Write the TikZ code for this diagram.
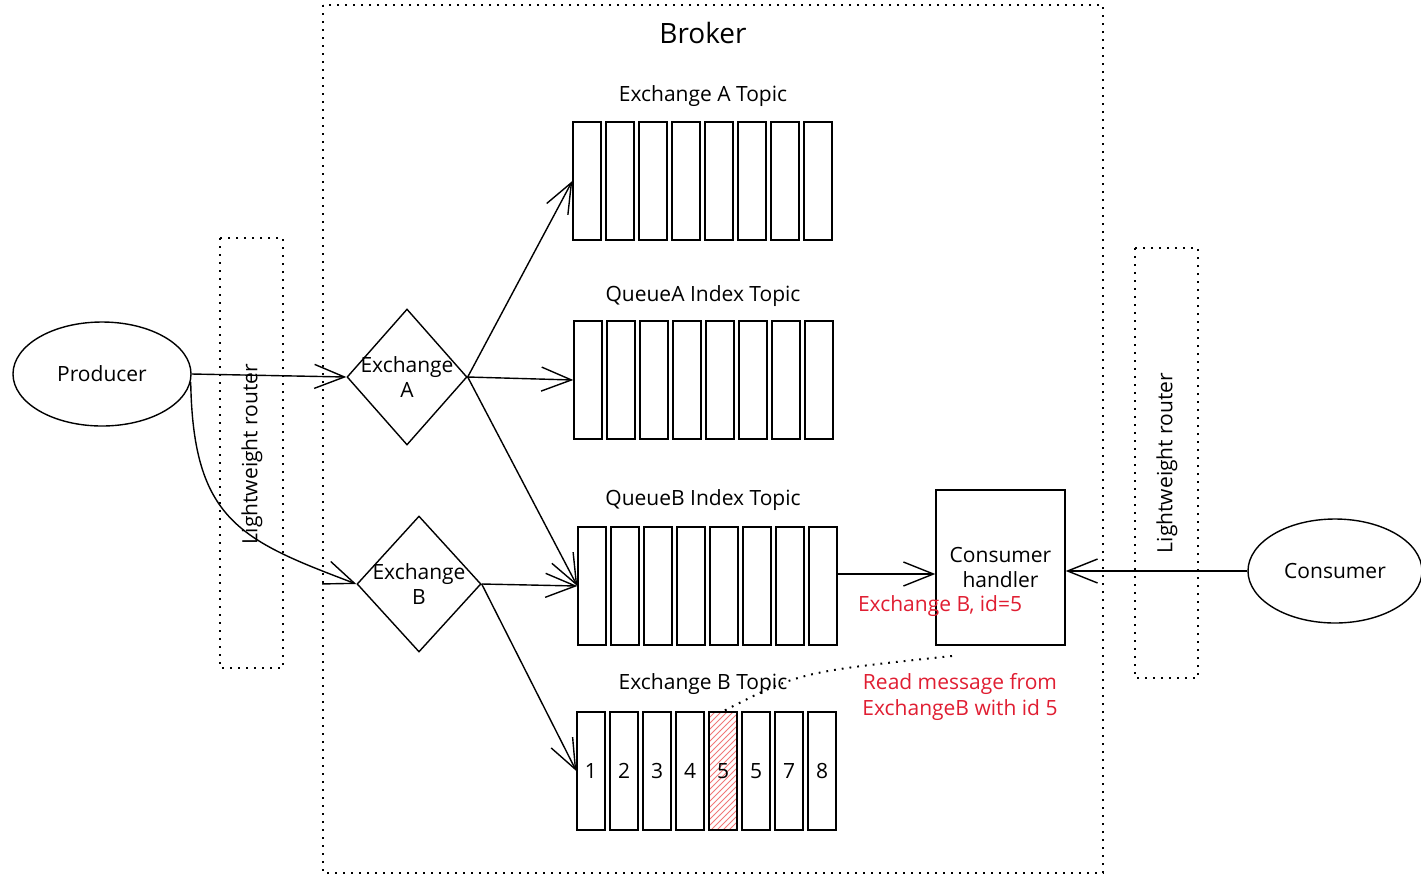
\documentclass[tikz,border=0pt]{standalone}
\usepackage{fontspec}
\setmainfont{Open Sans}
\usetikzlibrary{arrows.meta,shapes.geometric,patterns}
\definecolor{notered}{RGB}{224,30,50}
\definecolor{hatchred}{RGB}{240,120,120}
\begin{document}
\begin{tikzpicture}[x=0.5pt,y=-0.5pt,
  stroke/.style={line width=0.7pt},
  dotbox/.style={draw,line width=1pt,dash pattern=on 0.9pt off 3.1pt},
  bar/.style={draw,stroke,minimum width=14pt,minimum height=59pt,inner sep=0pt},
  xchg/.style={diamond,draw,stroke,inner sep=0pt},
  blob/.style={ellipse,draw,stroke,inner sep=0pt},
  lbl/.style={font=\fontsize{10.5}{12.5}\selectfont},
  title/.style={font=\fontsize{10.5}{12.5}\selectfont},
  note/.style={text=notered,font=\fontsize{10.5}{12.8}\selectfont},
  arr/.style={stroke,-{Straight Barb[length=15pt,width=12pt,line width=0.7pt]}},
  linkline/.style={line width=1pt,dash pattern=on 0.9pt off 3pt}
]
\useasboundingbox (0,0) rectangle (1421,875);

% broker area and the two router strips
\draw[dotbox] (323,5) rectangle (1103,873);
\node[font=\fontsize{14}{16}\selectfont] (broker) at (703,33) {Broker};
\draw[dotbox] (220,238) rectangle (283,668);
\node[lbl,rotate=90] (lrouter) at (252,454) {Lightweight router};
\draw[dotbox] (1135,248) rectangle (1198,678);
\node[lbl,rotate=90] (rrouter) at (1167,463) {Lightweight router};

% endpoints
\node[blob,minimum width=89pt,minimum height=52pt] (prod) at (102,374) {};
\node[lbl] at (prod) {Producer};
\node[blob,minimum width=87pt,minimum height=52pt] (cons) at (1335,571) {};
\node[lbl] at (cons) {Consumer};

% exchanges
\node[xchg,minimum width=60pt,minimum height=68pt] (xa) at (407,377) {};
\node[lbl,align=center] at (xa) {Exchange\\A};
\node[xchg,minimum width=62pt,minimum height=68pt] (xb) at (419,584) {};
\node[lbl,align=center] at (xb) {Exchange\\B};

% topics
\node[title] (ttA) at (703,96) {Exchange A Topic};
\foreach \i in {1,...,8}
  \node[bar] (ta\i) at ({587+33*(\i-1)},181) {};
\node[title] (ttQA) at (703,296) {QueueA Index Topic};
\foreach \i in {1,...,8}
  \node[bar] (qa\i) at ({588+33*(\i-1)},380) {};
\node[title] (ttQB) at (703,500) {QueueB Index Topic};
\foreach \i in {1,...,8}
  \node[bar] (qb\i) at ({592+33*(\i-1)},586) {};
\node[title] (ttB) at (703,684) {Exchange B Topic};
\node[bar,pattern={north east lines},pattern color=hatchred] (eb5) at ({591+33*4},771) {};
\foreach \i/\t in {1/1,2/2,3/3,4/4,5/5,6/5,7/7,8/8}
  \node[bar,lbl] (eb\i) at ({591+33*(\i-1)},771) {\t};

% consumer handler
\node[draw,stroke,minimum width=64.5pt,minimum height=77.5pt,align=center,lbl] (handler) at (1000.5,567.5) {Consumer\\handler};
\node[note,anchor=west] (noteid) at (851,606) {Exchange B, id=5};
\node[note,align=center] (noteread) at (960,697) {Read message from\\ExchangeB with id 5};

% flows
\draw[arr] (prod.east) -- (xa.west);
\draw[arr] (prod.355) .. controls (193,520) and (240,540) .. (xb.west);
\draw[arr] (xa.east) -- (ta1.west);
\draw[arr] (xa.east) -- (qa1.west);
\draw[arr] (xa.east) -- (qb1.west);
\draw[arr] (xb.east) -- (qb1.west);
\draw[arr] (xb.east) -- (eb1.west);
\path (qb8.east) ++(0,-12) coordinate (qbout);
\draw[arr] (qbout) -- (qbout -| handler.west);
\draw[arr] (cons.west) -- (cons.west -| handler.east);

% link from the note to the stored message
\coordinate (notetip) at (952,656);
\draw[linkline] (notetip) .. controls (800,672) .. (eb5.north);
\end{tikzpicture}
\end{document}
